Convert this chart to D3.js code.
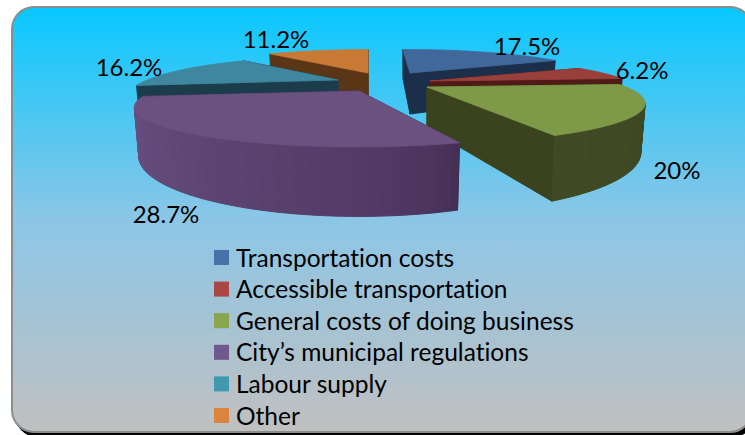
<!DOCTYPE html>
<html>
<head>
<meta charset="utf-8">
<script src="https://cdn.jsdelivr.net/npm/d3@7"></script>
<style>
  html, body { margin: 0; padding: 0; background: #fff; overflow: hidden; }
  text { font-family: Lato, "Open Sans", sans-serif; fill: #000; font-variant-ligatures: none; }
</style>
</head>
<body>
<div class="chart"></div>
<script>
var width = 745;
var height = 435;

// chart values
var categories = [
  "Transportation costs",
  "Accessible transportation",
  "General costs of doing business",
  "City\u2019s municipal regulations",
  "Labour supply",
  "Other"
];
var shares = [17.5, 6.2, 20, 28.7, 16.2, 11.2];
var shareLabels = ["17.5%", "6.2%", "20%", "28.7%", "16.2%", "11.2%"];

// colours per slice
var topColors = ["#41689a", "#9a403c", "#7e9a48", "#6a5180", "#3f879f", "#c87a35"];
var legendColors = ["#4572a7", "#aa4643", "#89a54e", "#71588f", "#4198af", "#db843d"];
var wallDark = ["#1c2f4a", "#501a17", "#3a431e", "#40304f", "#1b3c4b", "#5a3516"];
var wallStart = ["#1c2f4a", "#501a17", "#3a431e", "#452f55", "#1b3c4b", "#5a3516"];
var wallEnd = ["#1c2f4a", "#501a17", "#404a24", "#6b5285", "#1b3c4b", "#5a3516"];

// where each exploded slice has its tip, and small fixes for the fake 3d
var tipX = [410, 430, 427, 359, 338, 368];
var tipY = [73, 81, 87, 91, 80, 73];
var startFix = [-3, 0, 0, 5, 0, 0]; // degrees
var endFix = [0, 0, -1.2, 0, 0, 0]; // degrees
var radiusFix = [0.97, 1, 1, 1.03, 0.96, 1];
var drawOrder = [0, 5, 1, 4, 2, 3];

var labelX = [527, 642, 677, 166, 129, 276];
var labelY = [47, 71, 171, 215, 68, 40];

// perspective settings, fitted by eye
var radiusX = 199;
var radiusY = 33;
var depth = 0.41;
var wallHeight = 41;
var bottomShrink = 0.98;

var svg = d3
  .select(".chart")
  .append("svg")
  .attr("width", width)
  .attr("height", height);

var defs = svg.append("defs");
var bg = defs
  .append("linearGradient")
  .attr("id", "panel")
  .attr("x1", 0)
  .attr("y1", 0)
  .attr("x2", 0)
  .attr("y2", 1);
bg.append("stop").attr("offset", "0%").attr("stop-color", "#08c8ff");
bg.append("stop").attr("offset", "50%").attr("stop-color", "#8cc6e6");
bg.append("stop").attr("offset", "100%").attr("stop-color", "#c0c0c0");

// panel with shadow
svg
  .append("rect")
  .attr("x", 15)
  .attr("y", 10)
  .attr("width", 740)
  .attr("height", 427)
  .attr("rx", 22)
  .attr("fill", "#000");
svg
  .append("rect")
  .attr("x", 12)
  .attr("y", 7)
  .attr("width", 740)
  .attr("height", 425)
  .attr("rx", 22)
  .attr("fill", "url(#panel)")
  .attr("stroke", "#8c8c8c")
  .attr("stroke-width", 2);

var pie = d3.pie().sort(null);
var arcs = pie(shares);
var toDegrees = d3.scaleLinear().domain([0, 2 * Math.PI]).range([0, 360]);

// disc angle (clockwise from the far side) to screen position
function project(i, deg, ratio, bottom) {
  var a = (deg * Math.PI) / 180;
  var x = Math.sin(a) * ratio;
  var z = -Math.cos(a) * ratio;
  var s = 1 / (1 - depth * z);
  var dx = radiusX * radiusFix[i] * x * s;
  var dy = radiusY * z * s;
  if (bottom) {
    return [tipX[i] + dx * bottomShrink, tipY[i] + dy + s * wallHeight];
  }
  return [tipX[i] + dx, tipY[i] + dy];
}

var line = d3.line();

function drawQuad(group, pts, color) {
  group
    .append("path")
    .attr("d", line(pts) + "Z")
    .attr("fill", color)
    .attr("stroke", color)
    .attr("stroke-width", 1);
}

var slices = svg.append("g").attr("class", "slices");

drawOrder.forEach(function (i) {
  var g = slices.append("g");
  var start = toDegrees(arcs[i].startAngle) + startFix[i];
  var end = toDegrees(arcs[i].endAngle) + endFix[i];
  var steps = d3.range(start, end, 1.5).concat([end]);
  // wall shading changes quickly near the start of the slice
  var wallColor = d3
    .scalePow()
    .exponent(0.6)
    .domain([0, end - start])
    .range([wallStart[i], wallEnd[i]]);

  var tipTop = project(i, 0, 0, false);
  var tipBottom = project(i, 0, 0, true);

  function radialWall(deg) {
    drawQuad(
      g,
      [tipTop, project(i, deg, 1, false), project(i, deg, 1, true), tipBottom],
      wallDark[i]
    );
  }

  // far radial wall first so the near one ends up on top
  var startZ = -Math.cos((start * Math.PI) / 180);
  var endZ = -Math.cos((end * Math.PI) / 180);
  radialWall(startZ < endZ ? start : end);
  radialWall(startZ < endZ ? end : start);

  // curved wall, only the part facing the viewer
  d3.pairs(steps).forEach(function (p) {
    var a = project(i, p[0], 1, false);
    var b = project(i, p[1], 1, false);
    if (b[0] >= a[0]) return;
    drawQuad(g, [a, b, project(i, p[1], 1, true), project(i, p[0], 1, true)], wallColor(p[0] - start));
  });

  // top face
  var outline = [tipTop].concat(
    steps.map(function (d) {
      return project(i, d, 1, false);
    })
  );
  g.append("path")
    .attr("d", line(outline) + "Z")
    .attr("fill", topColors[i])
    .attr("stroke", topColors[i])
    .attr("stroke-width", 0.8);
});

// value labels
svg
  .append("g")
  .selectAll("text")
  .data(shareLabels)
  .enter()
  .append("text")
  .attr("x", (d, i) => labelX[i])
  .attr("y", (d, i) => labelY[i])
  .attr("dy", "0.35em")
  .attr("text-anchor", "middle")
  .attr("font-size", 24)
  .text((d) => d);

// legend
var legendY = d3
  .scalePoint()
  .domain(categories)
  .range([258, 416]);

var legend = svg
  .append("g")
  .selectAll("g")
  .data(categories)
  .enter()
  .append("g")
  .attr("transform", (d) => `translate(214,${legendY(d)})`);

legend
  .append("rect")
  .attr("y", -8)
  .attr("width", 15)
  .attr("height", 15)
  .attr("fill", (d, i) => legendColors[i]);

legend
  .append("text")
  .attr("x", 22)
  .attr("dy", "0.35em")
  .attr("font-size", 24.5)
  .text((d) => d);
</script>
</body>
</html>
